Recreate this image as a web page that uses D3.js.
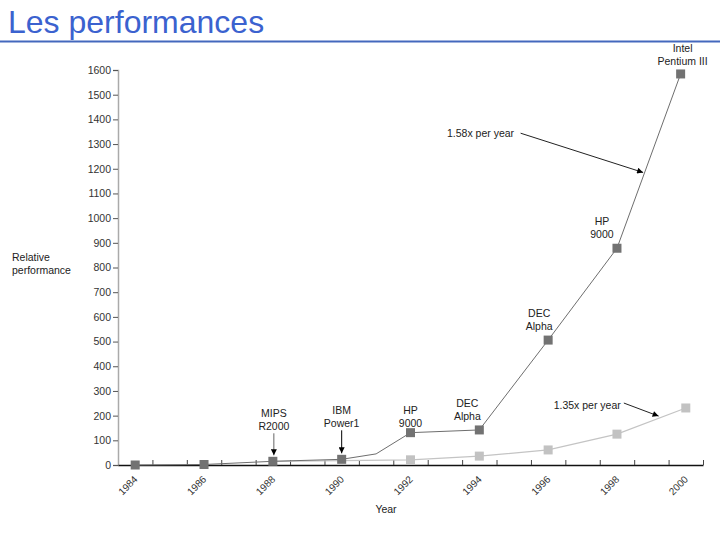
<!DOCTYPE html>
<html>
<head>
<meta charset="utf-8">
<script src="https://cdn.jsdelivr.net/npm/d3@7"></script>
<style>
  body { margin: 0; background: #fff; }
  svg { display: block; font-family: "Liberation Sans", Arial, sans-serif; }
</style>
</head>
<body>
<svg id="chart"></svg>
<script>
// Data
const darkYears = [1984, 1986, 1988, 1990, 1991, 1992, 1994, 1996, 1998, 1999.85];
const darkValues = [0, 2, 15, 23, 45, 131, 142, 506, 878, 1584];
const darkMarked = [true, true, true, true, false, true, true, true, true, true];

const lightYears = [1988, 1990, 1992, 1994, 1996, 1998, 2000];
const lightValues = [15, 18, 21, 36, 61, 125, 231];
const lightMarked = [false, false, true, true, true, true, true];

const yTicks = [0, 100, 200, 300, 400, 500, 600, 700, 800, 900, 1000, 1100, 1200, 1300, 1400, 1500, 1600];
const yearLabels = [1984, 1986, 1988, 1990, 1992, 1994, 1996, 1998, 2000];

// chip names next to the points (index into darkYears)
const chipNames = [
    { i: 9, lines: ["Intel", "Pentium III"], dx: 2, dy: -26, arrow: null },
    { i: 8, lines: ["HP", "9000"], dx: -15, dy: -27, arrow: null },
    { i: 7, lines: ["DEC", "Alpha"], dx: -9, dy: -27, arrow: null },
    { i: 6, lines: ["DEC", "Alpha"], dx: -12, dy: -27, arrow: null },
    { i: 5, lines: ["HP", "9000"], dx: 0, dy: -23, arrow: null },
    { i: 3, lines: ["IBM", "Power1"], dx: 0, dy: -49, arrow: "#000" },
    { i: 2, lines: ["MIPS", "R2000"], dx: 1, dy: -48, arrow: "#666" }
];

// growth rate notes: text start, arrow start, arrow tip (year, value)
const rateNotes = [
    { text: "1.58x per year", at: [1993.06, 1344], from: [1995.2, 1344], to: [1998.76, 1185] },
    { text: "1.35x per year", at: [1996.16, 243], from: [1998.2, 251], to: [1999.21, 198] }
];

var svgWidth = 720;
var svgHeight = 540;
var fontSize = 10.5;

var svg = d3.select("#chart")
    .attr("width", svgWidth)
    .attr("height", svgHeight);

svg.append("defs").append("marker")
    .attr("id", "head")
    .attr("viewBox", "0 0 10 10")
    .attr("refX", 10)
    .attr("refY", 5)
    .attr("markerWidth", 7)
    .attr("markerHeight", 6)
    .attr("markerUnits", "userSpaceOnUse")
    .attr("orient", "auto")
    .append("path")
    .attr("d", "M0,0 L10,5 L0,10 Z")
    .attr("fill", "#000");

// Title
svg.append("text")
    .attr("x", 8)
    .attr("y", 33)
    .attr("font-size", 32)
    .attr("fill", "#3b62cf")
    .text("Les performances");

svg.append("line")
    .attr("x1", 0).attr("x2", svgWidth)
    .attr("y1", 41.5).attr("y2", 41.5)
    .attr("stroke", "#4468bd")
    .attr("stroke-width", 2);

// Scales
var xScale = d3.scaleLinear().domain([1983.5, 2000.5]).range([118, 703]);
var yScale = d3.scaleLinear().domain([0, 1600]).range([465, 70]);

// y axis
var yAxis = svg.append("g")
    .attr("transform", "translate(118,0)")
    .call(d3.axisLeft(yScale).tickValues(yTicks).tickFormat(d3.format("d")).tickSize(5).tickPadding(2));
yAxis.select(".domain").attr("stroke", "#aaa").attr("stroke-width", 1.5);
yAxis.selectAll(".tick line").attr("stroke", "#555");
yAxis.selectAll(".tick text")
    .attr("font-family", "Liberation Sans, Arial, sans-serif")
    .attr("font-size", fontSize)
    .attr("fill", "#333");

// x axis: ticks at the year boundaries, pointing up
var halfYears = d3.range(1984.5, 2001, 1);
var xAxis = svg.append("g")
    .attr("transform", "translate(0," + yScale(0) + ")")
    .call(d3.axisBottom(xScale).tickValues(halfYears).tickSizeInner(-5).tickSizeOuter(0).tickFormat(""));
xAxis.select(".domain").attr("stroke", "#111").attr("stroke-width", 1.3);
xAxis.selectAll(".tick line").attr("stroke", "#444");

svg.selectAll(".year-label")
    .data(yearLabels)
    .enter()
    .append("text")
    .attr("class", "year-label")
    .attr("transform", function (d) { return "translate(" + (xScale(d) + 3) + "," + (yScale(0) + 15) + ") rotate(-45)"; })
    .attr("text-anchor", "end")
    .attr("font-size", 10)
    .attr("fill", "#333")
    .text(function (d) { return d; });

svg.append("text")
    .attr("x", 386)
    .attr("y", 513)
    .attr("text-anchor", "middle")
    .attr("font-size", fontSize)
    .attr("fill", "#222")
    .text("Year");

var yLabel = svg.append("text")
    .attr("x", 12)
    .attr("y", 261)
    .attr("font-size", fontSize)
    .attr("fill", "#222");
yLabel.append("tspan").attr("x", 12).text("Relative");
yLabel.append("tspan").attr("x", 12).attr("dy", 13).text("performance");

// Lines
var lineGen = d3.line()
    .x(function (d) { return xScale(d[0]); })
    .y(function (d) { return yScale(d[1]); });

var lightData = d3.zip(lightYears, lightValues);
var darkData = d3.zip(darkYears, darkValues);

svg.append("path")
    .attr("d", lineGen(lightData))
    .attr("fill", "none")
    .attr("stroke", "#c4c4c4")
    .attr("stroke-width", 1.2);

svg.append("path")
    .attr("d", lineGen(darkData))
    .attr("fill", "none")
    .attr("stroke", "#6e6e6e")
    .attr("stroke-width", 1);

svg.selectAll(".light-pt")
    .data(lightData.filter(function (d, i) { return lightMarked[i]; }))
    .enter()
    .append("rect")
    .attr("class", "light-pt")
    .attr("x", function (d) { return xScale(d[0]) - 4.5; })
    .attr("y", function (d) { return yScale(d[1]) - 4.5; })
    .attr("width", 9)
    .attr("height", 9)
    .attr("fill", "#c2c2c2");

svg.selectAll(".dark-pt")
    .data(darkData.filter(function (d, i) { return darkMarked[i]; }))
    .enter()
    .append("rect")
    .attr("class", "dark-pt")
    .attr("x", function (d) { return xScale(d[0]) - 4.5; })
    .attr("y", function (d) { return yScale(d[1]) - 4.5; })
    .attr("width", 9)
    .attr("height", 9)
    .attr("fill", "#727272");

// Chip names
chipNames.forEach(function (c) {
    var px = xScale(darkYears[c.i]) + c.dx;
    var py = yScale(darkValues[c.i]);
    var t = svg.append("text")
        .attr("text-anchor", "middle")
        .attr("font-size", fontSize)
        .attr("fill", "#222");
    c.lines.forEach(function (s, k) {
        t.append("tspan")
            .attr("x", px)
            .attr("y", py + c.dy + 4 + k * 13)
            .text(s);
    });
    if (c.arrow) {
        svg.append("line")
            .attr("x1", px).attr("x2", px)
            .attr("y1", py + c.dy + 20)
            .attr("y2", py - 6)
            .attr("stroke", c.arrow)
            .attr("stroke-width", 1)
            .attr("marker-end", "url(#head)");
    }
});

// Growth rate notes
rateNotes.forEach(function (n) {
    svg.append("text")
        .attr("x", xScale(n.at[0]))
        .attr("y", yScale(n.at[1]) + 4)
        .attr("font-size", fontSize)
        .attr("fill", "#222")
        .text(n.text);
    svg.append("line")
        .attr("x1", xScale(n.from[0])).attr("y1", yScale(n.from[1]))
        .attr("x2", xScale(n.to[0])).attr("y2", yScale(n.to[1]))
        .attr("stroke", "#222")
        .attr("stroke-width", 1)
        .attr("marker-end", "url(#head)");
});
</script>
</body>
</html>
